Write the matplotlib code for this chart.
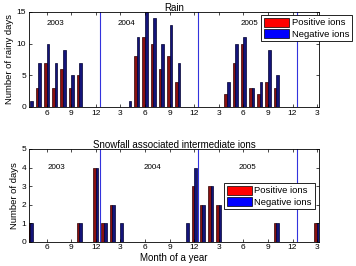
import numpy as np
import matplotlib
matplotlib.use('Agg')
import matplotlib.pyplot as plt

plt.rcParams['font.family'] = ['Liberation Sans', 'DejaVu Sans']

# continuous month index: 1 = Jan 2003 ... 39 = Mar 2006
months = np.arange(4, 40)

# rainy days, Apr 2003 .. Mar 2006
rain_pos = [0, 3, 7, 3, 6, 3, 5, 0, 0, 0, 0, 0,
            0, 8, 11, 10, 6, 8, 4, 0, 0, 0, 0, 0,
            2, 7, 10, 3, 2, 4, 3, 0, 0, 0, 0, 0]
rain_neg = [1, 7, 10, 7, 9, 5, 7, 0, 0, 0, 0, 0,
            1, 11, 15, 14, 10, 13, 7, 0, 0, 0, 0, 0,
            4, 10, 11, 3, 4, 9, 5, 0, 0, 0, 0, 0]

# snowfall associated intermediate ion days
snow_pos = [1, 0, 0, 0, 0, 0, 1, 0, 4, 1, 2, 0,
            0, 0, 0, 0, 0, 0, 0, 0, 3, 2, 3, 2,
            0, 0, 0, 0, 0, 0, 1, 0, 0, 0, 0, 1]
snow_neg = [1, 0, 0, 0, 0, 0, 1, 0, 4, 1, 2, 1,
            0, 0, 0, 0, 0, 0, 0, 1, 4, 2, 3, 2,
            0, 0, 0, 0, 0, 0, 1, 0, 0, 0, 0, 1]

tick_pos = np.arange(6, 40, 3)
tick_lab = ['6', '9', '12', '3'] * 3
year_breaks = [12.5, 24.5, 36.5]
years = ['2003', '2004', '2005']

fig = plt.figure(figsize=(3.56, 2.66), dpi=100)
ax1 = fig.add_axes([0.0815, 0.598, 0.815, 0.357])
ax2 = fig.add_axes([0.0815, 0.0915, 0.815, 0.3485])

w = 0.32


def draw_panel(ax, pos, neg, ymax, ylabel, title, year_xy):
    # bars look dark in the original: thin bars with black edges
    ax.bar(months - w / 2, pos, width=w, color='#8a1010', edgecolor='#300000',
           linewidth=0.5, label='Positive ions')
    ax.bar(months + w / 2, neg, width=w, color='#14147a', edgecolor='#000030',
           linewidth=0.5, label='Negative ions')
    for xb in year_breaks:
        ax.axvline(xb, color='#3333dd', linewidth=0.8)
    ax.set_xlim(3.85, 39.25)
    ax.set_ylim(0, ymax)
    ax.set_xticks(tick_pos)
    ax.set_xticklabels(tick_lab)
    ax.tick_params(direction='in', top=True, right=True, labelsize=6,
                   length=2.5, width=0.5, pad=2)
    for s in ax.spines.values():
        s.set_linewidth(0.6)
    ax.set_ylabel(ylabel, fontsize=6.8, labelpad=2)
    ax.set_title(title, fontsize=7, pad=0.5)
    for (x, y), yr in zip(year_xy, years):
        ax.text(x, y, yr, fontsize=5.8, ha='center', va='center')
    handles = [plt.Rectangle((0, 0), 1, 1, facecolor='red', edgecolor='black', linewidth=0.5),
               plt.Rectangle((0, 0), 1, 1, facecolor='blue', edgecolor='black', linewidth=0.5)]
    leg = ax.legend(handles, ['Positive ions', 'Negative ions'], loc='upper right',
                    fontsize=6.8, fancybox=False, framealpha=1, edgecolor='black',
                    handlelength=2.6, handleheight=1.1, borderpad=0.3,
                    labelspacing=0.15, handletextpad=0.3, borderaxespad=0)
    leg.get_frame().set_linewidth(0.6)
    return leg


leg1 = draw_panel(ax1, rain_pos, rain_neg, 15, 'Number of rainy days', 'Rain',
                  [(7.1, 13.1), (15.75, 13.1), (30.8, 13.1)])
leg1.set_bbox_to_anchor((1.113, 0.97), transform=ax1.transAxes)

leg2 = draw_panel(ax2, snow_pos, snow_neg, 5, 'Number of days',
                  'Snowfall associated intermediate ions',
                  [(7.2, 4.0), (18.9, 4.0), (30.5, 4.0)])
leg2.set_bbox_to_anchor((0.985, 0.635), transform=ax2.transAxes)
ax2.set_xlabel('Month of a year', fontsize=7, labelpad=1)

fig.savefig('out.png', dpi=100)
